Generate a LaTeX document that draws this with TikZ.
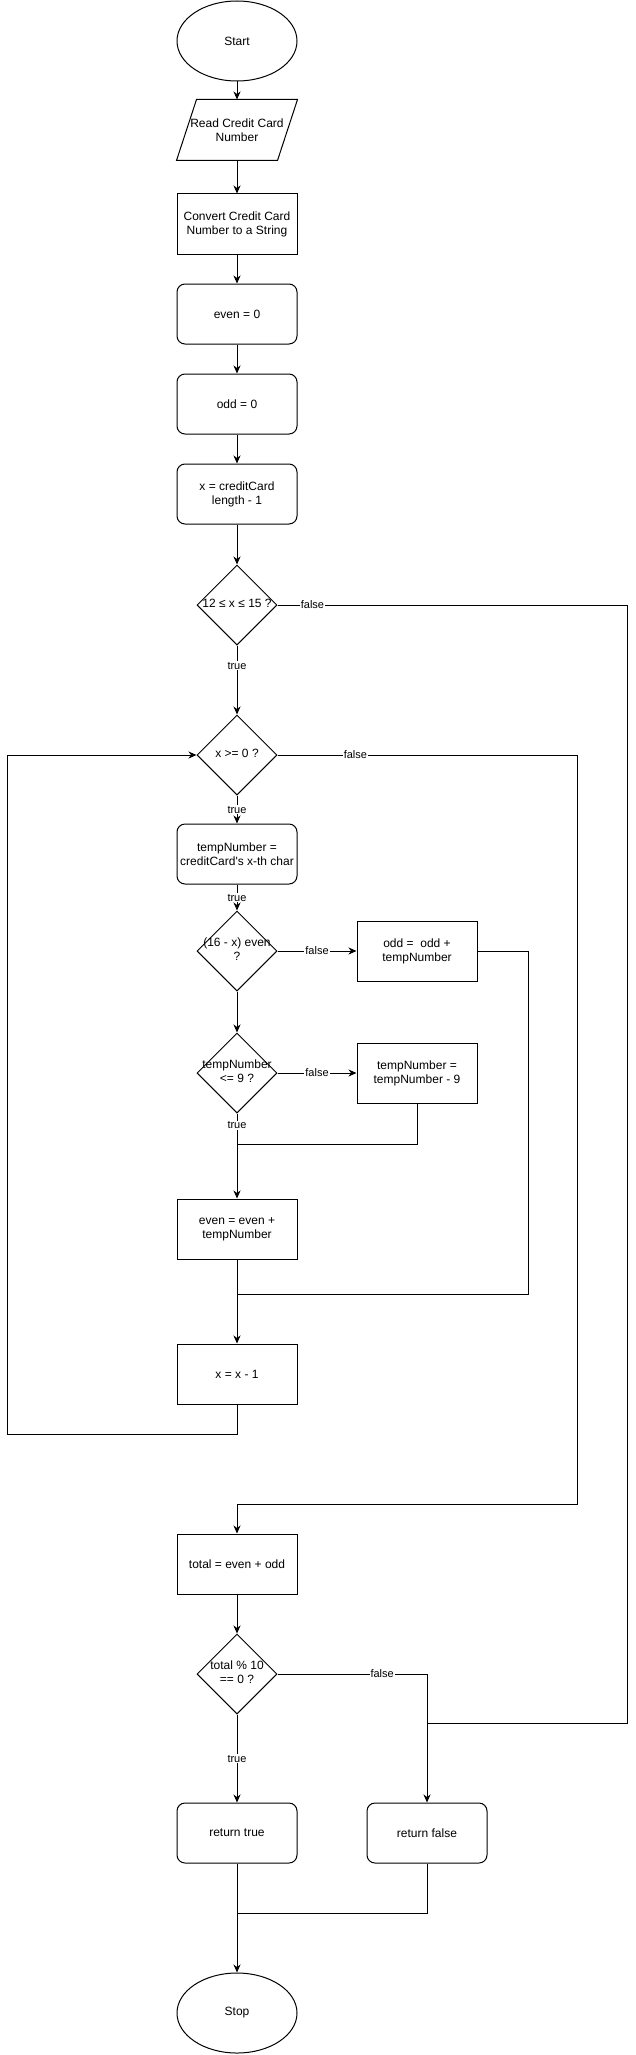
\documentclass[tikz,border=0pt]{standalone}
\usepackage{fontspec}
\newfontfamily\diofont{Liberation Sans}
\usetikzlibrary{shapes.geometric,arrows.meta}
\tikzset{
    block/.style={draw, rectangle, minimum width=120pt, minimum height=60pt, align=center, inner sep=2pt},
    rblock/.style={block, rounded corners=8pt},
    terminal/.style={draw, ellipse, minimum width=120pt, minimum height=80pt, inner sep=0pt},
    decision/.style={draw, diamond, aspect=1, minimum size=80pt, inner sep=0pt},
    io/.style={minimum width=120pt, minimum height=60pt, align=center, inner sep=0pt},
    lbl/.style={fill=white, inner sep=1pt, font=\diofont\fontsize{11pt}{13pt}\selectfont},
}
\newcommand{\cond}[1]{\makebox[0pt]{\begin{tabular}{@{}c@{}}#1\end{tabular}}}
\begin{document}
\begin{tikzpicture}[x=1pt, y=-1pt, line width=1pt, >={Stealth[length=8pt,width=7pt,inset=2.5pt]},
    font=\diofont\fontsize{12pt}{14pt}\selectfont]
    \useasboundingbox (0,0) rectangle (636,2055);
    %% main column
    \node[terminal] (start) at (237,41) {Start};
    \node[io] (read) at (237,130) {Read Credit Card\\Number};
    \draw ([xshift=20pt]read.north west) -- (read.north east) -- ([xshift=-20pt]read.south east) -- (read.south west) -- cycle;
    \node[block] (conv) at (237,224) {Convert Credit Card\\Number to a String};
    \node[rblock] (even0) at (237,314) {even = 0};
    \node[rblock] (odd0) at (237,404) {odd = 0};
    \node[rblock] (xinit) at (237,494) {x = creditCard\\length - 1};
    \node[decision] (lencheck) at (237,605) {\cond{12 ≤ x ≤ 15 ?}};
    \node[decision] (loop) at (237,755) {\cond{x >= 0 ?}};
    \node[rblock] (temp) at (237,854) {tempNumber =\\creditCard's x-th char};
    \node[decision] (pos) at (237,951) {\cond{(16 - x) even\\?}};
    \node[decision] (small) at (237,1073) {\cond{tempNumber\\<= 9 ?}};
    \node[block] (evenadd) at (237,1229) {even = even +\\tempNumber};
    \node[block] (dec) at (237,1374) {x = x - 1};
    \node[block] (total) at (237,1564) {total = even + odd};
    \node[decision] (mod) at (237,1674) {\cond{total \% 10\\== 0 ?}};
    \node[rblock] (rtrue) at (237,1833) {return true};
    \node[terminal] (stop) at (237,2013) {Stop};
    %% right column
    \node[block] (oddadd) at (417,951) {odd =~ odd +\\tempNumber};
    \node[block] (sub) at (417,1073) {tempNumber =\\tempNumber - 9};
    \node[rblock] (rfalse) at (427,1833) {return false};
    %% corners and joins
    \coordinate (j1) at (237,1144);
    \coordinate (j2) at (237,1294);
    \coordinate (j3) at (237,1913);
    \coordinate (e1) at (528,1294);
    \coordinate (e2) at (577,1504);
    \coordinate (e3) at (627,1723);
    \coordinate (e4) at (427,1723);
    \coordinate (back) at (7,1434);
    %% flow
    \draw[->] (start.south) -- (read.north);
    \draw[->] (read.south) -- (conv.north);
    \draw[->] (conv.south) -- (even0.north);
    \draw[->] (even0.south) -- (odd0.north);
    \draw[->] (odd0.south) -- (xinit.north);
    \draw[->] (xinit.south) -- (lencheck.north);
    \draw[->] (lencheck.south) -- (loop.north) node[lbl,pos=0.29] {true};
    \draw (lencheck.east) -| node[lbl,pos=0.05] {false} (e3) -- (e4);
    \draw[->] (loop.south) -- (temp.north) node[lbl,pos=0.5] {true};
    \draw[->] (loop.east) -| node[lbl,pos=0.13] {false} (e2) -| (total.north);
    \draw[->] (temp.south) -- (pos.north) node[lbl,pos=0.5] {true};
    \draw[->] (pos.east) -- (oddadd.west) node[lbl,pos=0.5] {false};
    \draw[->] (pos.south) -- (small.north);
    \draw[->] (small.east) -- (sub.west) node[lbl,pos=0.5] {false};
    \draw[->] (small.south) -- (evenadd.north) node[lbl,pos=0.14] {true};
    \draw (sub.south) |- (j1);
    \draw (oddadd.east) -| (e1) -- (j2);
    \draw[->] (evenadd.south) -- (dec.north);
    \draw[->] (dec.south) |- (back) |- (loop.west);
    \draw[->] (total.south) -- (mod.north);
    \draw[->] (mod.south) -- (rtrue.north) node[lbl,pos=0.5] {true};
    \draw[->] (mod.east) -| node[lbl,pos=0.35] {false} (rfalse.north);
    \draw (rfalse.south) |- (j3);
    \draw[->] (rtrue.south) -- (stop.north);
\end{tikzpicture}
\end{document}
